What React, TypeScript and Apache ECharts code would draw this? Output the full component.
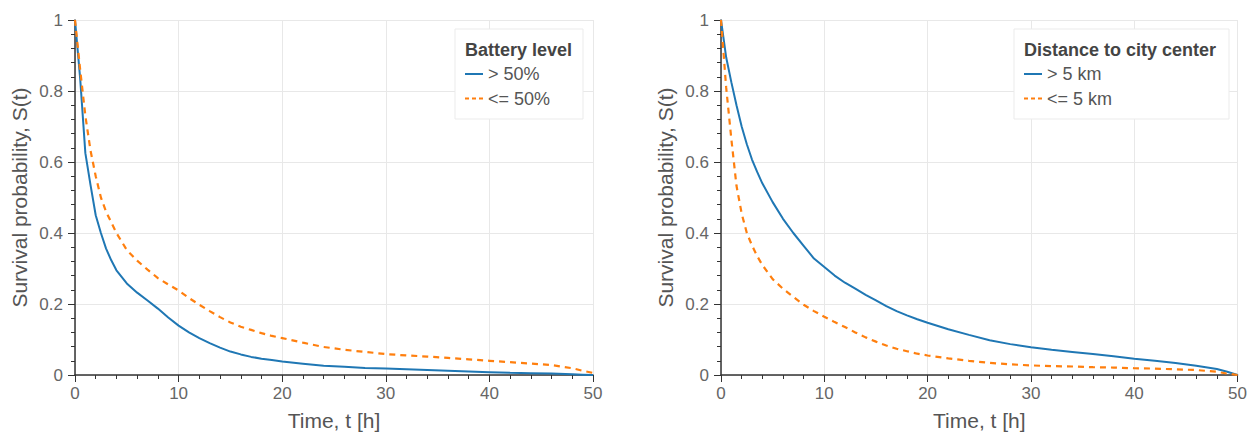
import React, { useEffect, useRef } from "react";
import * as echarts from "echarts";

const times = [0, 0.5, 1, 1.5, 2, 2.5, 3, 3.5, 4, 5, 6, 7, 8, 9, 10, 11, 12, 13, 14, 15, 16, 17, 18, 19, 20, 22, 24, 26, 28, 30, 32, 34, 36, 38, 40, 42, 44, 46, 48, 49, 50];

const batteryHigh = [1.0, 0.835, 0.625, 0.535, 0.45, 0.4, 0.356, 0.323, 0.295, 0.258, 0.232, 0.21, 0.187, 0.162, 0.139, 0.12, 0.104, 0.09, 0.077, 0.066, 0.058, 0.051, 0.046, 0.042, 0.038, 0.032, 0.026, 0.023, 0.02, 0.018, 0.016, 0.014, 0.012, 0.01, 0.008, 0.006, 0.005, 0.004, 0.002, 0.001, 0.0];
const batteryLow = [1.0, 0.86, 0.73, 0.632, 0.56, 0.5, 0.46, 0.43, 0.4, 0.352, 0.322, 0.297, 0.273, 0.255, 0.238, 0.217, 0.198, 0.18, 0.163, 0.148, 0.136, 0.127, 0.118, 0.11, 0.104, 0.091, 0.079, 0.071, 0.065, 0.059, 0.055, 0.052, 0.048, 0.044, 0.04, 0.036, 0.032, 0.028, 0.019, 0.012, 0.006];
const distFar = [1.0, 0.895, 0.825, 0.76, 0.7, 0.65, 0.607, 0.572, 0.54, 0.487, 0.44, 0.4, 0.364, 0.328, 0.304, 0.28, 0.26, 0.243, 0.226, 0.21, 0.194, 0.18, 0.168, 0.157, 0.147, 0.129, 0.113, 0.098, 0.087, 0.078, 0.071, 0.065, 0.059, 0.053, 0.046, 0.04, 0.034, 0.026, 0.017, 0.009, 0.0];
const distNear = [1.0, 0.81, 0.665, 0.533, 0.455, 0.4, 0.365, 0.335, 0.31, 0.27, 0.243, 0.22, 0.198, 0.18, 0.164, 0.149, 0.135, 0.12, 0.106, 0.094, 0.083, 0.074, 0.067, 0.06, 0.055, 0.047, 0.04, 0.034, 0.03, 0.027, 0.025, 0.024, 0.022, 0.021, 0.019, 0.018, 0.016, 0.014, 0.009, 0.004, 0.0];

const leftNames = ["> 50%", "<= 50%"];
const rightNames = ["> 5 km", "<= 5 km"];
const leftTitle = "Battery level";
const rightTitle = "Distance to city center";
const xName = "Time, t [h]";
const yName = "Survival probability, S(t)";

const FONT = "'Liberation Sans', Arial, Helvetica, sans-serif";
const BLUE = "#1f77b4";
const ORANGE = "#ff7f0e";

function xAxisFor(idx: number) {
  return {
    type: "value",
    gridIndex: idx,
    min: 0,
    max: 50,
    interval: 10,
    name: xName,
    nameLocation: "middle",
    nameGap: 35,
    nameTextStyle: { fontSize: 21, color: "#555", fontFamily: FONT },
    axisLine: { show: true, onZero: false, lineStyle: { color: "#333", width: 1.5 } },
    axisTick: { show: true, length: 7, lineStyle: { color: "#333", width: 1 } },
    minorTick: { show: true, splitNumber: 5, length: 4, lineStyle: { color: "#333", width: 1 } },
    axisLabel: { fontSize: 17, color: "#666", margin: 10, fontFamily: FONT },
    splitLine: { show: true, lineStyle: { color: "#e8e8e8", width: 1 } },
  };
}

function yAxisFor(idx: number) {
  return {
    type: "value",
    gridIndex: idx,
    min: 0,
    max: 1,
    interval: 0.2,
    name: yName,
    nameLocation: "middle",
    nameGap: 45,
    nameTextStyle: { fontSize: 21, color: "#555", fontFamily: FONT },
    axisLine: { show: true, onZero: false, lineStyle: { color: "#333", width: 1.5 } },
    axisTick: { show: true, length: 7, lineStyle: { color: "#333", width: 1 } },
    minorTick: { show: true, splitNumber: 5, length: 4, lineStyle: { color: "#333", width: 1 } },
    axisLabel: { fontSize: 17, color: "#666", margin: 12, fontFamily: FONT },
    splitLine: { show: true, lineStyle: { color: "#e8e8e8", width: 1 } },
  };
}

function lineSeries(name: string, idx: number, vals: number[], color: string, dashed: boolean) {
  return {
    type: "line",
    name,
    xAxisIndex: idx,
    yAxisIndex: idx,
    data: times.map((t, i) => [t, vals[i]]),
    symbol: "none",
    showSymbol: false,
    smooth: false,
    itemStyle: { color },
    lineStyle: { color, width: dashed ? 2.2 : 2, type: dashed ? [6, 5] : "solid" },
    z: 3,
  };
}

function legendGraphics(title: string, names: string[], boxX: number, boxW: number) {
  const x0 = boxX + 10;
  const rows = [74, 98.5];
  const els: any[] = [
    { type: "rect", z: 50, shape: { x: boxX, y: 29, width: boxW, height: 90 }, style: { fill: "#ffffff", stroke: "#ebebeb", lineWidth: 1 } },
    { type: "text", z: 55, x: x0, y: 50, style: { text: title, fill: "#444", font: `bold 18px ${FONT}`, verticalAlign: "middle", align: "left" } },
  ];
  names.forEach((n, i) => {
    const dashed = i === 1;
    els.push({
      type: "line",
      z: 55,
      shape: { x1: x0, y1: rows[i], x2: x0 + 18, y2: rows[i] },
      style: { stroke: dashed ? ORANGE : BLUE, lineWidth: dashed ? 2.2 : 2, lineDash: dashed ? [4, 3] : null },
    });
    els.push({
      type: "text",
      z: 55,
      x: x0 + 23,
      y: rows[i],
      style: { text: n, fill: "#555", font: `18px ${FONT}`, verticalAlign: "middle", align: "left" },
    });
  });
  return els;
}

export default function App() {
  const ref = useRef<HTMLDivElement>(null);
  useEffect(() => {
    if (!ref.current) return;
    const chart = echarts.init(ref.current, undefined, { renderer: "svg" });
    chart.setOption({
      animation: false,
      backgroundColor: "#ffffff",
      textStyle: { fontFamily: FONT },
      grid: [
        { left: 75, top: 20, width: 518, height: 357 },
        { left: 721, top: 20, width: 518, height: 357 },
      ],
      xAxis: [xAxisFor(0), xAxisFor(1)],
      yAxis: [yAxisFor(0), yAxisFor(1)],
      graphic: [
        ...legendGraphics(leftTitle, leftNames, 455, 128),
        ...legendGraphics(rightTitle, rightNames, 1014, 215),
      ],
      series: [
        lineSeries(leftNames[0], 0, batteryHigh, BLUE, false),
        lineSeries(leftNames[1], 0, batteryLow, ORANGE, true),
        lineSeries(rightNames[0], 1, distFar, BLUE, false),
        lineSeries(rightNames[1], 1, distNear, ORANGE, true),
      ],
    });
    return () => chart.dispose();
  }, []);
  return <div ref={ref} style={{ position: "absolute", left: 0, top: 0, width: 1250, height: 436 }} />;
}
